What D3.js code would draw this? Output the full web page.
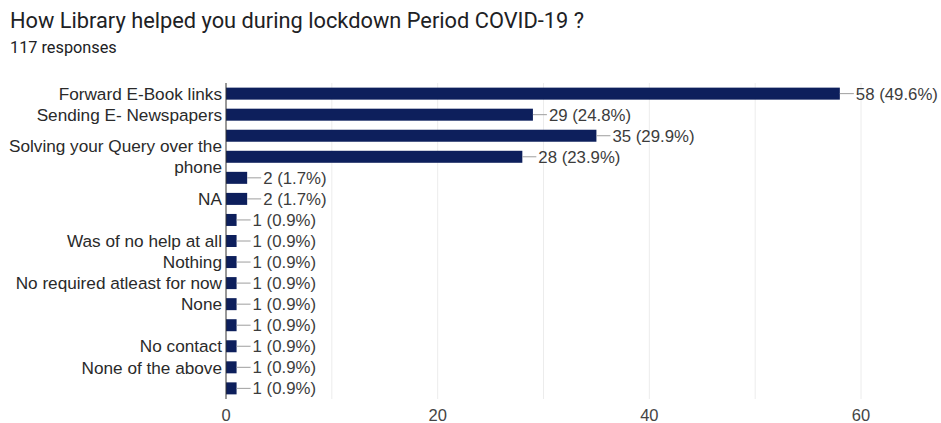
<!DOCTYPE html>
<html>
<head>
<meta charset="utf-8">
<script src="https://cdn.jsdelivr.net/npm/d3@7"></script>
<style>
  html, body { margin: 0; padding: 0; background: #fff; }
  svg { display: block; }
</style>
</head>
<body>
<div id="chart"></div>
<script>
// Survey answers, top to bottom; blank entries are answers whose label is not shown.
const categories = [
  "Forward E-Book links",
  "Sending E- Newspapers",
  "",
  "Solving your Query over the phone",
  "",
  "NA",
  "",
  "Was of no help at all",
  "Nothing",
  "No required atleast for now",
  "None",
  "",
  "No contact",
  "None of the above",
  ""
];
const counts = [58, 29, 35, 28, 2, 2, 1, 1, 1, 1, 1, 1, 1, 1, 1];
const percents = ["49.6%", "24.8%", "29.9%", "23.9%", "1.7%", "1.7%", "0.9%", "0.9%", "0.9%", "0.9%", "0.9%", "0.9%", "0.9%", "0.9%", "0.9%"];
const xTicks = [0, 20, 40, 60];
const xGrid = [0, 10, 20, 30, 40, 50, 60];
const totalResponses = 117;

const W = 941, H = 423;
const margin = { top: 83, right: 80, bottom: 25, left: 226 };
const font = "'Liberation Sans', Arial, sans-serif";

const svg = d3.select("#chart").append("svg")
  .attr("width", W).attr("height", H);

svg.append("text")
  .attr("x", 10).attr("y", 28)
  .attr("font-family", "Roboto, 'Noto Sans', sans-serif")
  .attr("font-size", 21.8)
  .attr("fill", "#202124")
  .text("How Library helped you during lockdown Period COVID-19 ?");

svg.append("text")
  .attr("x", 10).attr("y", 53)
  .attr("font-family", "Roboto, 'Noto Sans', sans-serif")
  .attr("font-size", 16.3)
  .attr("fill", "#202124")
  .text(totalResponses + " responses");

const x = d3.scaleLinear().domain([0, 60]).range([margin.left, 861]);
const y = d3.scaleBand()
  .domain(d3.range(categories.length))
  .range([margin.top, 399])
  .paddingInner(0.43)
  .paddingOuter(0.22);

// vertical grid lines
svg.append("g").selectAll("line")
  .data(xGrid.slice(1))
  .join("line")
  .attr("x1", d => x(d)).attr("x2", d => x(d))
  .attr("y1", margin.top).attr("y2", 399)
  .attr("stroke", "#ececec").attr("stroke-width", 1);

// bars
svg.append("g").selectAll("rect")
  .data(counts)
  .join("rect")
  .attr("x", x(0))
  .attr("y", (d, i) => y(i))
  .attr("width", d => x(d) - x(0))
  .attr("height", y.bandwidth())
  .attr("fill", "#0d1f5c");

// value connectors and labels
const vals = svg.append("g").selectAll("g")
  .data(counts)
  .join("g")
  .attr("transform", (d, i) => `translate(${x(d)},${y(i) + y.bandwidth() / 2})`);
vals.append("line")
  .attr("x1", 0).attr("x2", 14)
  .attr("stroke", "#9e9e9e").attr("stroke-width", 1);
vals.append("text")
  .attr("x", 16).attr("dy", "0.36em")
  .attr("font-family", font).attr("font-size", 16.8)
  .attr("fill", "#3c3c3c")
  .text((d, i) => `${d} (${percents[i]})`);

// baseline axis
svg.append("line")
  .attr("x1", x(0)).attr("x2", x(0))
  .attr("y1", margin.top).attr("y2", 399)
  .attr("stroke", "#333").attr("stroke-width", 1);

// category labels (wrapped to fit left margin)
const maxLabelWidth = 220;
const labelG = svg.append("g");
categories.forEach((c, i) => {
  if (!c) return;
  const t = labelG.append("text")
    .attr("x", x(0) - 4)
    .attr("text-anchor", "end")
    .attr("font-family", font).attr("font-size", 17.2)
    .attr("fill", "#2a2a2a");
  const words = c.split(" ");
  const lines = [];
  let line = [];
  const probe = t.append("tspan");
  words.forEach(w => {
    line.push(w);
    probe.text(line.join(" "));
    if (probe.node().getComputedTextLength() > maxLabelWidth && line.length > 1) {
      line.pop();
      lines.push(line.join(" "));
      line = [w];
    }
  });
  lines.push(line.join(" "));
  probe.remove();
  const lh = 21;
  const cy = y(i) + y.bandwidth() / 2;
  lines.forEach((l, k) => {
    t.append("tspan")
      .attr("x", x(0) - 4)
      .attr("y", cy + (k - (lines.length - 1) / 2) * lh)
      .attr("dy", "0.36em")
      .text(l);
  });
});

// x axis tick labels
svg.append("g").selectAll("text")
  .data(xTicks)
  .join("text")
  .attr("x", d => x(d))
  .attr("y", 421)
  .attr("text-anchor", "middle")
  .attr("font-family", font).attr("font-size", 16.5)
  .attr("fill", "#444")
  .text(d => d);
</script>
</body>
</html>
